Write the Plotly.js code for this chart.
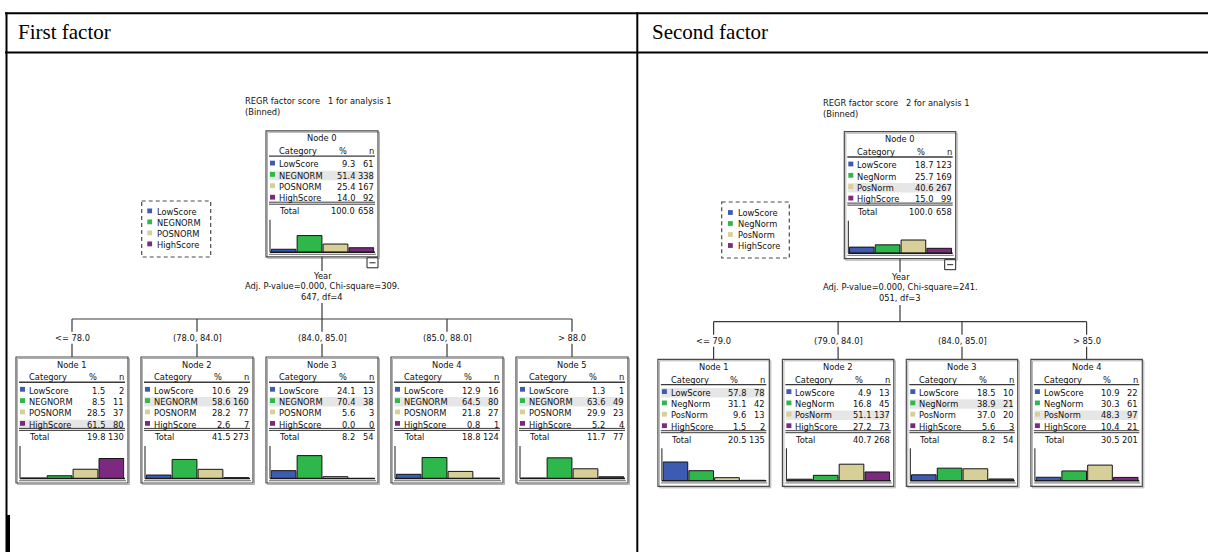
<!DOCTYPE html>
<html><head><meta charset="utf-8">
<script src="https://cdn.plot.ly/plotly-3.0.1.min.js"></script>
<style>html,body{margin:0;padding:0;background:#fff;overflow:hidden}#chart{width:1208px;height:552px}</style>
</head><body><div id="chart"></div>
<script>
// ---------- data ----------
const tableHeaders = ['First factor', 'Second factor'];
const treeTitles = ['REGR factor score   1 for analysis 1', 'REGR factor score   2 for analysis 1'];
const binnedNote = '(Binned)';
const categoriesF1 = ['LowScore', 'NEGNORM', 'POSNORM', 'HighScore'];
const categoriesF2 = ['LowScore', 'NegNorm', 'PosNorm', 'HighScore'];
const splitVariable = 'Year';
const splitStatsF1 = ['Adj. P-value=0.000, Chi-square=309.', '647, df=4'];
const splitStatsF2 = ['Adj. P-value=0.000, Chi-square=241.', '051, df=3'];
const branchLabelsF1 = ['<= 78.0', '(78.0, 84.0]', '(84.0, 85.0]', '(85.0, 88.0]', '> 88.0'];
const branchLabelsF2 = ['<= 79.0', '(79.0, 84.0]', '(84.0, 85.0]', '> 85.0'];
const pctF1 = [[9.3, 51.4, 25.4, 14.0], [1.5, 8.5, 28.5, 61.5], [10.6, 58.6, 28.2, 2.6], [24.1, 70.4, 5.6, 0.0], [12.9, 64.5, 21.8, 0.8], [1.3, 63.6, 29.9, 5.2]];
const nF1 = [[61, 338, 167, 92], [2, 11, 37, 80], [29, 160, 77, 7], [13, 38, 3, 0], [16, 80, 27, 1], [1, 49, 23, 4]];
const totalPctF1 = [100.0, 19.8, 41.5, 8.2, 18.8, 11.7];
const totalNF1 = [658, 130, 273, 54, 124, 77];
const pctF2 = [[18.7, 25.7, 40.6, 15.0], [57.8, 31.1, 9.6, 1.5], [4.9, 16.8, 51.1, 27.2], [18.5, 38.9, 37.0, 5.6], [10.9, 30.3, 48.3, 10.4]];
const nF2 = [[123, 169, 267, 99], [78, 42, 13, 2], [13, 45, 137, 73], [10, 21, 20, 3], [22, 61, 97, 21]];
const totalPctF2 = [100.0, 20.5, 40.7, 8.2, 30.5];
const totalNF2 = [658, 135, 268, 54, 201];
const categoryColors = ['#3d5bb3', '#2eb84b', '#d6cf97', '#7b2a80'];

// ---------- layout geometry ----------
const W = 1208, H = 552;
const FONT = 'DejaVu Sans, Verdana, sans-serif';
const FS = 8.3;
const TXT = '#111111';
const trees = [
  { cats: categoriesF1, pct: pctF1, n: nF1, tp: totalPctF1, tn: totalNF1, labels: branchLabelsF1, stats: splitStatsF1, title: treeTitles[0],
    rootL: 266, rootT: 130.8, boxW: 112, boxH: 126, childCx: [72, 197, 322, 447, 572], childT: 357,
    titleX: 245, titleY: 101, yearY: 276, statY: [286, 297], stemTop: 303, hY: 319, labY: 337.7,
    leg: { x0: 141.7, x1: 210.7, y0: 201, y1: 257, sq: 147.3, tx: 156.7, ry: 211.7 } },
  { cats: categoriesF2, pct: pctF2, n: nF2, tp: totalPctF2, tn: totalNF2, labels: branchLabelsF2, stats: splitStatsF2, title: treeTitles[1],
    rootL: 844.3, rootT: 131.7, boxW: 111.4, boxH: 127, childCx: [713.6, 838.1, 962, 1086.6], childT: 359.3,
    titleX: 823, titleY: 102.5, yearY: 277.3, statY: [287.3, 298.3], stemTop: 305, hY: 321.7, labY: 340.7,
    leg: { x0: 721.7, x1: 789.3, y0: 202, y1: 258, sq: 728, tx: 737.7, ry: 213.3 } }
];

const shapes = [], annotations = [], traces = [];
const layout = {
  width: W, height: H, margin: { l: 0, r: 0, t: 0, b: 0 },
  paper_bgcolor: '#ffffff', plot_bgcolor: 'rgba(0,0,0,0)', showlegend: false,
  xaxis: { range: [0, W], domain: [0, 1], visible: false, fixedrange: true },
  yaxis: { range: [H, 0], domain: [0, 1], visible: false, fixedrange: true }
};

function line(x0, y0, x1, y1, color, width, dash) {
  shapes.push({ type: 'line', xref: 'x', yref: 'y', x0, y0, x1, y1, line: { color, width, dash: dash || 'solid' } });
}
function rect(x0, y0, x1, y1, fill, lineColor, lw, dash) {
  shapes.push({ type: 'rect', xref: 'x', yref: 'y', x0, y0, x1, y1, fillcolor: fill || 'rgba(0,0,0,0)',
    line: { color: lineColor || 'rgba(0,0,0,0)', width: lw || 0, dash: dash || 'solid' }, layer: 'above' });
}
function txt(x, y, text, anchor, opts) {
  opts = opts || {};
  annotations.push({ xref: 'x', yref: 'y', x, y, text, showarrow: false, xanchor: anchor || 'left', yanchor: 'middle',
    borderpad: 0, borderwidth: 0,
    font: { family: opts.family || FONT, size: opts.size || FS, color: opts.color || TXT } });
}

let axisIdx = 2;
function node(L, T, w, h, title, cats, pct, n, tp, tn) {
  // frame with shadow look
  rect(L + 1.5, T + 1.5, L + w + 1.5, T + h + 1.5, null, '#b0b0b0', 1);
  rect(L, T, L + w, T + h, null, '#4a4a4a', 1.2);
  txt(L + w / 2, T + 7.5, title, 'center');
  // header
  txt(L + 13, T + 20.2, 'Category', 'left');
  txt(L + 76.5, T + 20.2, '%', 'center');
  txt(L + w - 4, T + 20.2, 'n', 'right');
  line(L + 3, T + 25.3, L + w - 3, T + 25.3, '#3a3a3a', 1.4);
  const rowY = [33.5, 44.8, 56.1, 67.6];
  let maxI = 0;
  pct.forEach((v, i) => { if (v > pct[maxI]) maxI = i; });
  rect(L + 3.3, T + rowY[maxI] - 4.8, L + w - 4.5, T + rowY[maxI] + 4.6, '#e6e6e6');
  cats.forEach((c, i) => {
    const y = T + rowY[i];
    rect(L + 4, y - 3.6, L + 9, y + 1.2, categoryColors[i]);
    txt(L + 13, y, c, 'left');
    txt(L + 88.5, y, pct[i].toFixed(1), 'right');
    txt(L + w - 4, y, String(n[i]), 'right');
  });
  line(L + 3, T + 71.4, L + w - 3, T + 71.4, '#3a3a3a', 1);
  line(L + 3, T + 73.4, L + w - 3, T + 73.4, '#3a3a3a', 1);
  txt(L + 13, T + 80.3, 'Total', 'left');
  txt(L + 88.5, T + 80.3, tp.toFixed(1), 'right');
  txt(L + w - 4, T + 80.3, String(tn), 'right');
  // histogram
  const base = T + 121.5, top = T + 89;
  const xa = 'xaxis' + axisIdx, ya = 'yaxis' + axisIdx;
  layout[xa] = { domain: [(L + 4.6) / W, (L + w - 3.6) / W], range: [-0.5, 3.5], visible: false, fixedrange: true, anchor: 'y' + axisIdx };
  layout[ya] = { domain: [1 - base / H, 1 - top / H], range: [0, 100], visible: false, fixedrange: true, anchor: 'x' + axisIdx };
  traces.push({ type: 'bar', x: [0, 1, 2, 3], y: pct, width: 0.955, xaxis: 'x' + axisIdx, yaxis: 'y' + axisIdx,
    marker: { color: categoryColors, line: { color: '#151515', width: 1 } }, hoverinfo: 'skip' });
  axisIdx++;
  line(L + 4, top, L + 4, base, '#1a1a1a', 1);
  line(L + 4, base, L + w - 3, base, '#1a1a1a', 1.4);
  line(L + 3, T + 123.6, L + w - 2, T + 123.6, '#8a8a8a', 1.2);
}

trees.forEach(t => {
  txt(t.titleX, t.titleY, t.title, 'left');
  txt(t.titleX, t.titleY + 11, binnedNote, 'left');
  // legend
  rect(t.leg.x0, t.leg.y0, t.leg.x1, t.leg.y1, null, '#4a4a4a', 1.2, '4px,3px');
  t.cats.forEach((c, i) => {
    const y = t.leg.ry + 11 * i;
    rect(t.leg.sq, y - 3.2, t.leg.sq + 4.8, y + 1.6, categoryColors[i]);
    txt(t.leg.tx, y, c, 'left');
  });
  // root node
  node(t.rootL, t.rootT, t.boxW, t.boxH, 'Node 0', t.cats, t.pct[0], t.n[0], t.tp[0], t.tn[0]);
  const cx = t.rootL + t.boxW / 2;
  const rb = t.rootT + t.boxH;
  // collapse box
  rect(t.rootL + t.boxW - 11, rb + 1, t.rootL + t.boxW, rb + 11, '#ffffff', '#222222', 1);
  line(t.rootL + t.boxW - 8.5, rb + 6, t.rootL + t.boxW - 2.5, rb + 6, '#222222', 1);
  // stem and split text
  line(cx, rb, cx, t.yearY - 5, '#3a3a3a', 1.2);
  txt(cx, t.yearY, splitVariable, 'center');
  txt(cx, t.statY[0], t.stats[0], 'center');
  txt(cx, t.statY[1], t.stats[1], 'center');
  line(cx, t.stemTop, cx, t.hY, '#3a3a3a', 1.2);
  line(t.childCx[0], t.hY, t.childCx[t.childCx.length - 1], t.hY, '#3a3a3a', 1.2);
  t.childCx.forEach((c, k) => {
    line(c, t.hY, c, t.labY - 6, '#3a3a3a', 1.2);
    line(c, t.labY + 6, c, t.childT, '#3a3a3a', 1.2);
    txt(c, t.labY, t.labels[k], 'center');
    node(c - t.boxW / 2, t.childT, t.boxW, t.boxH, 'Node ' + (k + 1), t.cats, t.pct[k + 1], t.n[k + 1], t.tp[k + 1], t.tn[k + 1]);
  });
});

// ---------- table frame ----------
line(5, 13.2, W, 13.2, '#000', 2);
line(5, 52.5, W, 52.5, '#000', 2);
line(6.5, 12.2, 6.5, H, '#000', 2);
line(637.3, 12.2, 637.3, H, '#000', 2);
rect(7, 515, 10, H, '#000');
txt(18, 32, tableHeaders[0], 'left', { family: 'Liberation Serif, Times New Roman, serif', size: 21, color: '#000' });
txt(651.5, 32, tableHeaders[1], 'left', { family: 'Liberation Serif, Times New Roman, serif', size: 21, color: '#000' });

layout.shapes = shapes;
layout.annotations = annotations;
Plotly.newPlot('chart', traces, layout, { staticPlot: true, displayModeBar: false });
</script>
</body></html>
